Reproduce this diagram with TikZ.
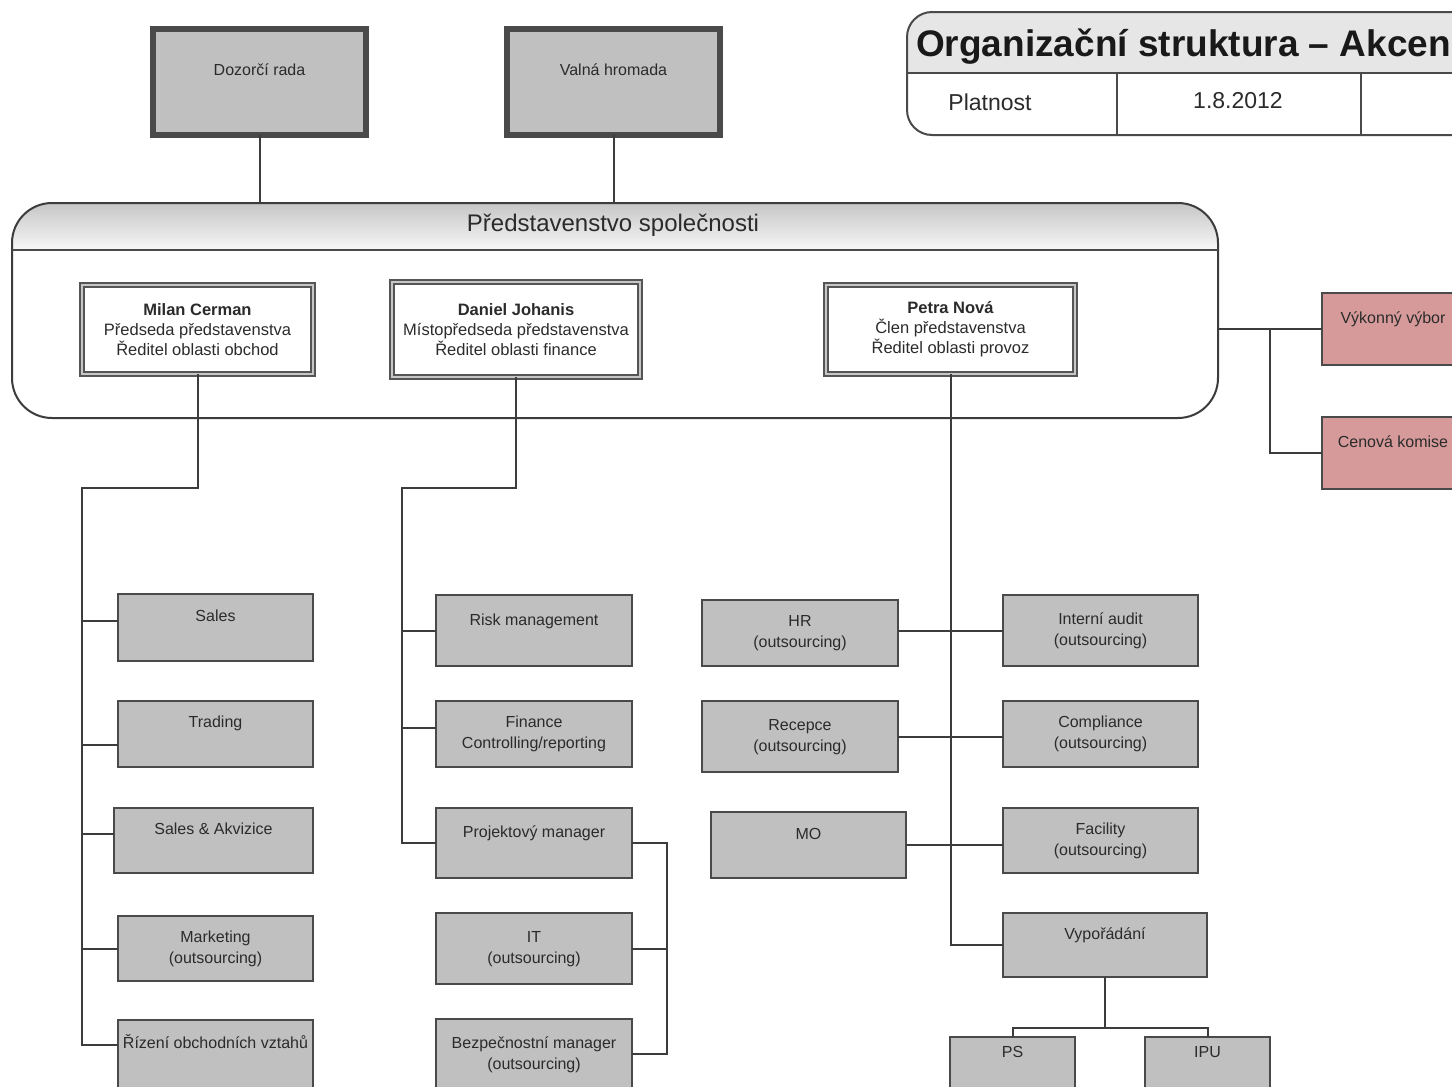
\documentclass[tikz,border=0pt]{standalone}
\usepackage{fontspec}
\setmainfont{Liberation Sans}
\usetikzlibrary{calc}
\definecolor{boxfill}{HTML}{C0C0C0}
\definecolor{boxline}{HTML}{4A4A4A}
\definecolor{redfill}{HTML}{D69A9A}
\definecolor{conncol}{HTML}{3C3C3C}
\definecolor{txtc}{HTML}{2B2B2B}
\definecolor{titlefill}{HTML}{E6E6E6}
\definecolor{hdtop}{HTML}{C6C6C6}
\definecolor{hdbot}{HTML}{F7F7F7}
\definecolor{memline}{HTML}{555555}
\newcommand\boxfont{\fontsize{16}{21}\selectfont}
\newcommand\memfont{\fontsize{16.5}{20}\selectfont}
\newcommand\hdrfont{\fontsize{24}{28}\selectfont}
\newcommand\ttlfont{\fontsize{37}{40}\selectfont\bfseries}
\newcommand\cellfont{\fontsize{23}{27}\selectfont}
\begin{document}
\begin{tikzpicture}[x=1pt,y=-1pt,
  sbox/.style={draw=boxline, fill=boxfill, line width=2pt, anchor=north west, inner sep=0pt, outer sep=0pt},
  topbox/.style={sbox, line width=5.5pt, draw=boxline},
  redbox/.style={sbox, fill=redfill},
  member/.style={draw=memline, double=gray!45, double distance=1.2pt, line width=2pt, fill=white,
     anchor=north west, align=center, font=\memfont, text=txtc, inner sep=0pt, outer sep=0pt},
  lbl/.style={anchor=north, align=center, font=\boxfont, text=txtc, inner sep=0pt},
  cline/.style={draw=conncol, line width=2pt},
  tline/.style={draw=boxline, line width=2pt}
]
\clip (0,0) rectangle (1452,1087);
\fill[white] (0,0) rectangle (1452,1087);

% ---------- title table ----------
\begin{scope}
  \clip (900,0) rectangle (1460,73);
  \fill[titlefill, rounded corners=25pt] (907,12) rectangle (1500,135);
\end{scope}
\draw[tline, rounded corners=25pt] (907,12) rectangle (1500,135);
\draw[tline] (907,73) -- (1500,73);
\draw[tline] (1117,73) -- (1117,135);
\draw[tline] (1361,73) -- (1361,135);
\node[anchor=base west, font=\ttlfont, text=black!90, inner sep=0pt] (title) at (916,56) {Organizační struktura – Akcen};
\node[anchor=base, font=\cellfont, text=txtc, inner sep=0pt] (platnost) at (990,110) {Platnost};
\node[anchor=base, font=\cellfont, text=txtc, inner sep=0pt] (datum) at (1238,108) {1.8.2012};

% ---------- board container ----------
\begin{scope}
  \clip[rounded corners=40pt] (12,203) rectangle (1218,418);
  \shade[top color=hdtop, bottom color=hdbot] (12,203) rectangle (1218,250);
\end{scope}
\node[draw=conncol, line width=2pt, rounded corners=40pt, minimum width=1206pt, minimum height=215pt,
      anchor=north west, inner sep=0pt, outer sep=0pt] (board) at (12,203) {};
\draw[tline] (12,250) -- (1218,250);
\node[font=\hdrfont, text=txtc, inner sep=0pt] (hdr) at (613,225) {Představenstvo společnosti};

% ---------- top boxes ----------
\node[topbox, minimum width=213pt, minimum height=106pt, label={[lbl,yshift=-35pt]north:Dozorčí rada}] (dozor) at (153,29) {};
\node[topbox, minimum width=213pt, minimum height=106pt, label={[lbl,yshift=-35pt]north:Valná hromada}] (valna) at (507,29) {};

% ---------- board members ----------
\node[member, minimum width=231pt, minimum height=89pt] (milan) at (82,285)
  {\textbf{Milan Cerman}\\Předseda představenstva\\Ředitel oblasti obchod};
\node[member, minimum width=248pt, minimum height=95pt] (daniel) at (392,282)
  {\textbf{Daniel Johanis}\\Místopředseda představenstva\\Ředitel oblasti finance};
\node[member, minimum width=249pt, minimum height=89pt] (petra) at (826,285)
  {\textbf{Petra Nová}\\Člen představenstva\\Ředitel oblasti provoz};

% ---------- red boxes ----------
\node[redbox, minimum width=142pt, minimum height=72pt, label={[lbl,yshift=-19pt]north:Výkonný výbor}] (vykon) at (1322,293) {};
\node[redbox, minimum width=142pt, minimum height=72pt, label={[lbl,yshift=-19pt]north:Cenová komise}] (cenova) at (1322,417) {};

% ---------- left column ----------
\node[sbox, minimum width=195pt, minimum height=67pt, label={[lbl,yshift=-16pt]north:Sales}] (sales) at (118,594) {};
\node[sbox, minimum width=195pt, minimum height=66pt, label={[lbl,yshift=-15pt]north:Trading}] (trading) at (118,701) {};
\node[sbox, minimum width=199pt, minimum height=65pt, label={[lbl,yshift=-15pt]north:Sales \& Akvizice}] (akviz) at (114,808) {};
\node[sbox, minimum width=195pt, minimum height=65pt, label={[lbl,yshift=-15pt]north:Marketing\\(outsourcing)}] (market) at (118,916) {};
\node[sbox, minimum width=195pt, minimum height=80pt, label={[lbl,yshift=-14pt]north:Řízení obchodních vztahů}] (rizeni) at (118,1020) {};

% ---------- middle column ----------
\node[sbox, minimum width=196pt, minimum height=71pt, label={[lbl,yshift=-19pt]north:Risk management}] (risk) at (436,595) {};
\node[sbox, minimum width=196pt, minimum height=66pt, label={[lbl,yshift=-15pt]north:Finance\\Controlling/reporting}] (finance) at (436,701) {};
\node[sbox, minimum width=196pt, minimum height=70pt, label={[lbl,yshift=-18pt]north:Projektový manager}] (projekt) at (436,808) {};
\node[sbox, minimum width=196pt, minimum height=71pt, label={[lbl,yshift=-18pt]north:IT\\(outsourcing)}] (it) at (436,913) {};
\node[sbox, minimum width=196pt, minimum height=81pt, label={[lbl,yshift=-18pt]north:Bezpečnostní manager\\(outsourcing)}] (bezpec) at (436,1019) {};

% ---------- right area ----------
\node[sbox, minimum width=196pt, minimum height=66pt, label={[lbl,yshift=-15pt]north:HR\\(outsourcing)}] (hr) at (702,600) {};
\node[sbox, minimum width=196pt, minimum height=71pt, label={[lbl,yshift=-18pt]north:Recepce\\(outsourcing)}] (recepce) at (702,701) {};
\node[sbox, minimum width=195pt, minimum height=66pt, label={[lbl,yshift=-16pt]north:MO}] (mo) at (711,812) {};
\node[sbox, minimum width=195pt, minimum height=71pt, label={[lbl,yshift=-18pt]north:Interní audit\\(outsourcing)}] (audit) at (1003,595) {};
\node[sbox, minimum width=195pt, minimum height=66pt, label={[lbl,yshift=-15pt]north:Compliance\\(outsourcing)}] (compl) at (1003,701) {};
\node[sbox, minimum width=195pt, minimum height=65pt, label={[lbl,yshift=-15pt]north:Facility\\(outsourcing)}] (facil) at (1003,808) {};
\node[sbox, minimum width=204pt, minimum height=64pt, label={[lbl,yshift=-15pt]north:Vypořádání}] (vypo) at (1003,913) {};
\node[sbox, minimum width=125pt, minimum height=70pt, label={[lbl,yshift=-9pt]north:PS}] (ps) at (950,1037) {};
\node[sbox, minimum width=125pt, minimum height=70pt, label={[lbl,yshift=-9pt]north:IPU}] (ipu) at (1145,1037) {};

% ---------- connection points ----------
\coordinate (sales-c)   at ([yshift=6.5pt]sales.west);
\coordinate (trading-c) at ([yshift=-11pt]trading.west);
\coordinate (akviz-c)   at ([yshift=6.5pt]akviz.west);
\coordinate (market-c)  at (market.west);
\coordinate (rizeni-c)  at ([yshift=15pt]rizeni.west);
\coordinate (finance-c) at ([yshift=6pt]finance.west);
\coordinate (bezpec-c)  at ([yshift=5.5pt]bezpec.east);

% ---------- connectors ----------
\draw[cline] (dozor.south) -- (dozor.south |- board.north);
\draw[cline] (valna.south) -- (valna.south |- board.north);

\coordinate (lb) at (82,488);
\draw[cline] (milan.south) |- (lb) -- (lb |- rizeni-c) -- (rizeni-c);
\draw[cline] (lb |- sales-c) -- (sales-c);
\draw[cline] (lb |- trading-c) -- (trading-c);
\draw[cline] (lb |- akviz-c) -- (akviz-c);
\draw[cline] (lb |- market-c) -- (market-c);

\coordinate (mb) at (402,488);
\draw[cline] (daniel.south) |- (mb) -- (mb |- projekt.west) -- (projekt.west);
\draw[cline] (mb |- risk.west) -- (risk.west);
\draw[cline] (mb |- finance-c) -- (finance-c);

\coordinate (pb) at (667,843);
\draw[cline] (projekt.east) -- (pb) |- (bezpec-c);
\draw[cline] (pb |- it.east) -- (it.east);

\draw[cline] (petra.south) |- (vypo.west);
\draw[cline] (hr.east |- audit.west) -- (audit.west);
\draw[cline] (recepce.east) -- (recepce.east -| compl.west);
\draw[cline] (mo.east) -- (mo.east -| facil.west);

\coordinate (vj) at ([yshift=-51pt]vypo.south);
\draw[cline] (vypo.south) -- (vj);
\draw[cline] (ps.north) |- (vj) -| (ipu.north);

\coordinate (rj) at ($(board.east |- vykon.west)!0.5!(vykon.west)$);
\draw[cline] (board.east |- vykon.west) -- (vykon.west);
\draw[cline] (rj) |- (cenova.west);
\end{tikzpicture}
\end{document}
